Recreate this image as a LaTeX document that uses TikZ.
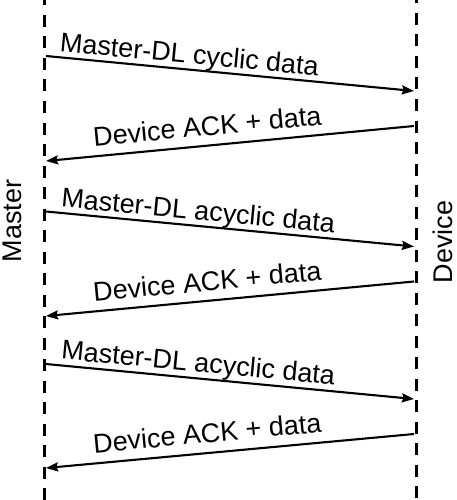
\documentclass[tikz,border=0pt]{standalone}
\usepackage{fontspec}
\setmainfont{Liberation Sans}
\usetikzlibrary{arrows.meta}
\begin{document}
\begin{tikzpicture}[x=1pt,y=-1pt,
  lifeline/.style={line width=3pt, dash pattern=on 12pt off 9.5pt},
  msg/.style={line width=2.1pt, -{Stealth[length=12pt,width=9pt,inset=1.5pt]}},
  lbl/.style={font=\fontsize{27}{32}\selectfont, sloped, anchor=base, inner sep=0pt},
  side/.style={font=\fontsize{27}{32}\selectfont, rotate=90, anchor=base, inner sep=0pt}]
\useasboundingbox (0,0) rectangle (457,500);
\begin{scope}
\clip (0,0) rectangle (457,500);
% lifelines
\coordinate (mtop) at (44,-6.5);
\coordinate (mbot) at (44,505);
\coordinate (dtop) at (416,-8.5);
\coordinate (dbot) at (416,505);
\draw[lifeline] (mtop) -- (mbot);
\draw[lifeline] (dtop) -- (dbot);
\end{scope}
% side labels
\node[side] (master) at (21,221) {Master};
\node[side] (device) at (452,242) {Device};
% message end points
\coordinate (m1) at (46,56);   \coordinate (d1) at (414,91);
\coordinate (d2) at (414,126); \coordinate (m2) at (46,161);
\coordinate (m3) at (46,211.5);\coordinate (d3) at (414,246.5);
\coordinate (d4) at (414,281.5);\coordinate (m4) at (46,316);
\coordinate (m5) at (46,364);  \coordinate (d5) at (414,399);
\coordinate (d6) at (414,434); \coordinate (m6) at (46,468);
% messages
\draw[msg] (m1) -- node[lbl, pos=0.386, yshift=6pt] (l1) {Master-DL cyclic data} (d1);
\draw[msg] (d2) -- node[lbl, pos=0.557, yshift=10pt] (l2) {Device ACK + data} (m2);
\draw[msg] (m3) -- node[lbl, pos=0.41, yshift=6pt] (l3) {Master-DL acyclic data} (d3);
\draw[msg] (d4) -- node[lbl, pos=0.557, yshift=10pt] (l4) {Device ACK + data} (m4);
\draw[msg] (m5) -- node[lbl, pos=0.41, yshift=6.5pt] (l5) {Master-DL acyclic data} (d5);
\draw[msg] (d6) -- node[lbl, pos=0.557, yshift=10.5pt] (l6) {Device ACK + data} (m6);
\end{tikzpicture}
\end{document}
